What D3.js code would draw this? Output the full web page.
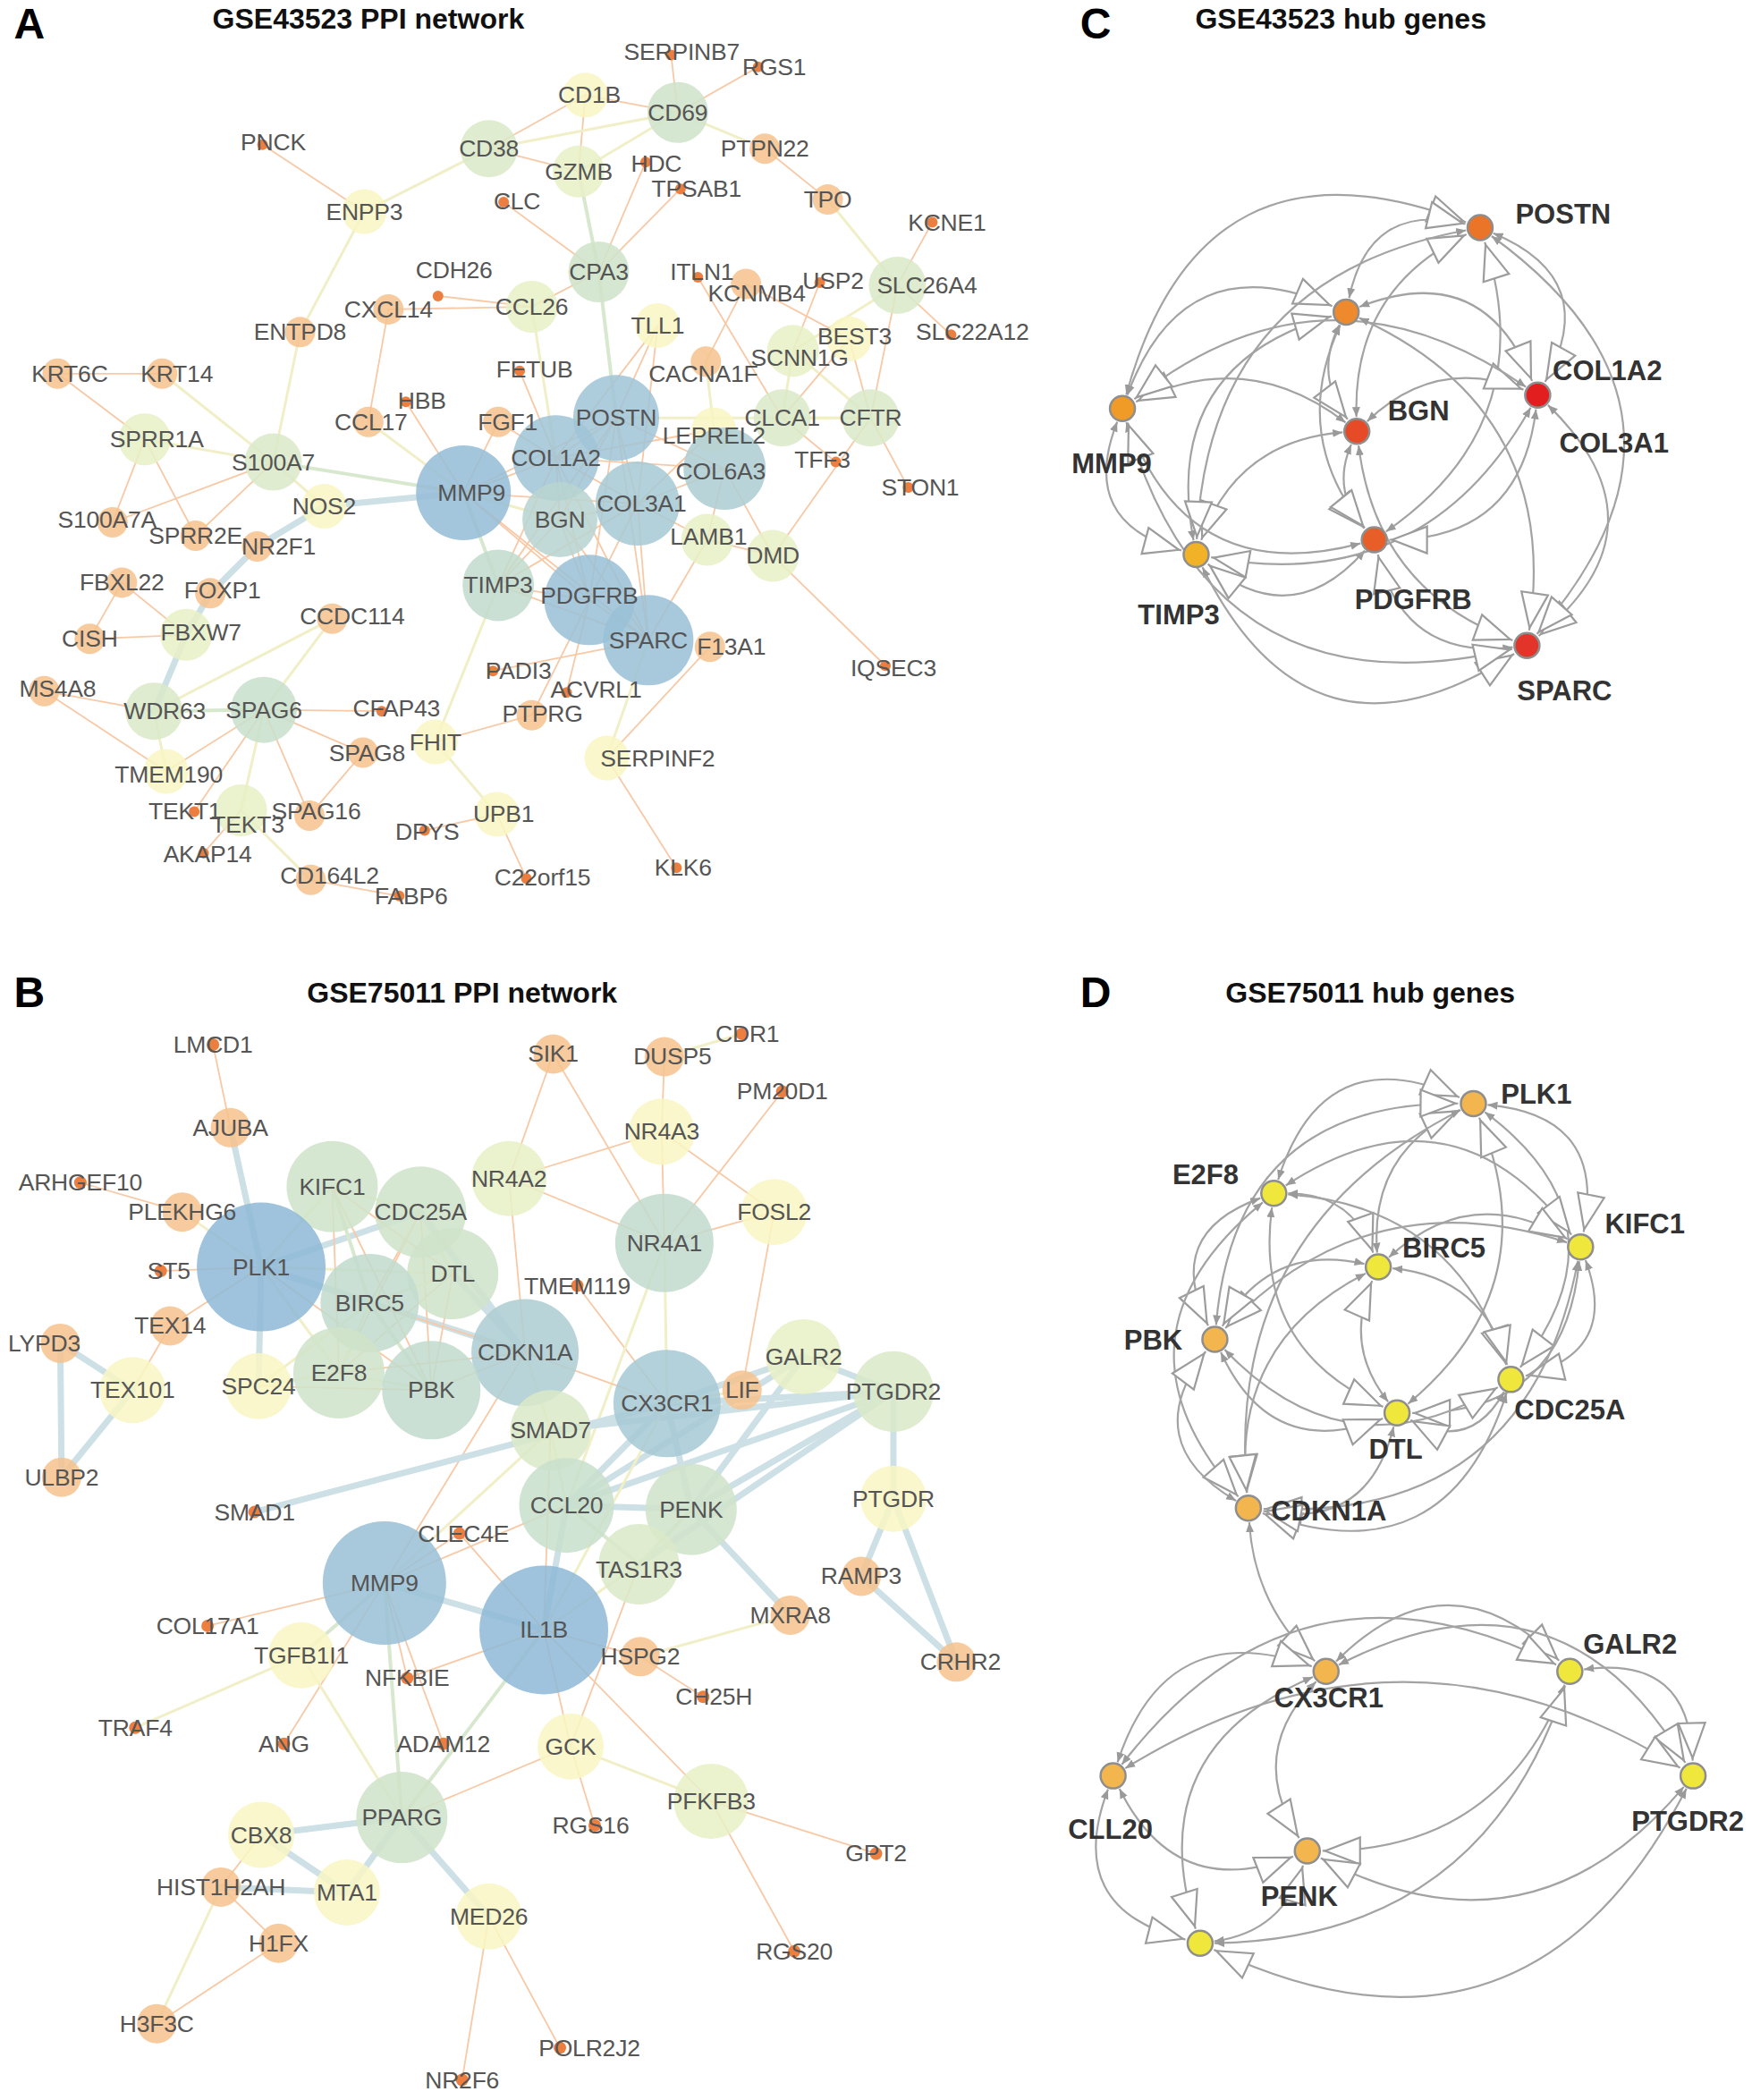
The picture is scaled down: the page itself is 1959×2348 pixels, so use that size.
<!DOCTYPE html>
<html><head><meta charset="utf-8">
<script src="https://cdn.jsdelivr.net/npm/d3@7"></script>
<style>
body{margin:0;background:#fff}
svg text{font-family:"Liberation Sans",Arial,Helvetica,sans-serif}
</style></head>
<body>
<svg id="fig" width="1959" height="2348"></svg>
<script>
// ---------------- DATA (layout units of a 1308 x 1568 reference) ----------------
const panelLetters = [["A",22,18],["B",22,741],["C",818,18],["D",818,741]];
const panelTitles = [["GSE43523 PPI network",275,14],["GSE75011 PPI network",345,741],
                     ["GSE43523 hub genes",1001,14],["GSE75011 hub genes",1023,741]];

// [gene, x, y, degree]
const nodesA = [
["SERPINB7",501,41,1],["RGS1",566,50,1],["CD1B",437,71,3],["CD69",506,84,6],["PNCK",196,108,1],
["CD38",365,111,5],["PTPN22",571,111,2],["GZMB",432,128,4],["HDC",482,121,1],["CLC",376,151,1],
["TPSAB1",508,141,1],["TPO",618,149,2],["ENPP3",272,158,3],["KCNE1",696,166,1],["CPA3",447,203,6],
["CDH26",327,221,1],["CXCL14",290,231,2],["CCL26",397,229,4],["ITLN1",521,207,1],["KCNMB4",557,212,2],
["USP2",612,211,1],["SLC26A4",670,213,5],["ENTPD8",224,248,2],["TLL1",491,243,3],["BEST3",634,253,3],
["SLC22A12",710,250,1],["SCNN1G",592,262,4],["KRT6C",43,279,2],["KRT14",121,279,2],["FETUB",388,277,1],
["CACNA1F",527,270,2],["HBB",303,300,1],["CCL17",275,315,2],["FGF1",372,315,2],["POSTN",460,312,12],
["CLCA1",584,312,5],["CFTR",650,312,5],["LEPREL2",533,321,3],["SPRR1A",108,328,4],["COL1A2",415,342,12],
["S100A7",204,345,5],["COL6A3",541,350,10],["TFF3",624,345,1],["STON1",678,364,1],["MMP9",346,368,14],
["NOS2",242,378,3],["BGN",418,388,9],["COL3A1",476,376,11],["S100A7A",84,390,2],["SPRR2E",146,400,2],
["NR2F1",192,408,2],["LAMB1",528,403,4],["DMD",577,415,4],["FBXL22",91,435,2],["FOXP1",157,443,2],
["TIMP3",372,437,8],["PDGFRB",440,448,13],["CCDC114",248,462,2],["CISH",67,477,2],["FBXW7",139,474,4],
["SPARC",484,478,13],["F13A1",530,483,2],["IQSEC3",661,497,1],["PADI3",368,501,1],["MS4A8",33,516,2],
["ACVRL1",423,517,1],["WDR63",115,531,5],["SPAG6",197,530,7],["CFAP43",285,531,1],["PTPRG",397,534,2],
["FHIT",325,554,3],["SPAG8",271,562,2],["SERPINF2",453,566,3],["TMEM190",124,576,3],["TEKT1",145,606,1],
["TEKT3",180,605,4],["SPAG16",231,609,2],["UPB1",371,608,3],["DPYS",317,620,1],["AKAP14",152,637,1],
["CD164L2",232,657,2],["C22orf15",393,656,1],["KLK6",505,648,1],["FABP6",298,669,1]
];
// [source, target, score class 1..4]
const edgesA = [
["SERPINB7","CD69",1],["RGS1","CD69",1],["CD1B","CD69",1],["CD1B","CD38",1],["CD1B","GZMB",1],
["CD69","CD38",2],["CD69","GZMB",2],["CD69","PTPN22",2],["CD38","GZMB",1],["CD38","ENPP3",2],
["PNCK","ENPP3",1],["PTPN22","TPO",1],["TPO","SLC26A4",2],["GZMB","CPA3",3],["HDC","CPA3",1],
["TPSAB1","CPA3",1],["CLC","CPA3",1],["CPA3","CCL26",1],["CPA3","POSTN",3],["CCL26","CXCL14",1],
["CDH26","CCL26",1],["CXCL14","CCL17",1],["CCL26","COL1A2",2],["ENPP3","ENTPD8",2],["ENTPD8","S100A7",2],
["KRT6C","KRT14",1],["KRT6C","SPRR1A",1],["KRT14","S100A7",2],["SPRR1A","S100A7",2],["SPRR1A","S100A7A",1],
["SPRR1A","SPRR2E",1],["S100A7","S100A7A",1],["S100A7","SPRR2E",1],["S100A7","MMP9",3],["S100A7","NOS2",2],
["NOS2","MMP9",4],["NOS2","NR2F1",4],["NR2F1","FOXP1",4],["FOXP1","FBXW7",4],["FBXW7","WDR63",4],
["FBXL22","FBXW7",1],["FBXL22","CISH",1],["CISH","FBXW7",1],["CCDC114","WDR63",2],["CCDC114","SPAG6",2],
["MS4A8","WDR63",1],["MS4A8","TMEM190",1],["WDR63","SPAG6",3],["WDR63","TMEM190",2],["SPAG6","TMEM190",1],
["SPAG6","CFAP43",1],["SPAG6","SPAG8",1],["SPAG6","TEKT1",1],["SPAG6","TEKT3",2],["SPAG6","SPAG16",1],
["SPAG8","SPAG16",1],["TEKT3","AKAP14",1],["TEKT3","CD164L2",2],["CD164L2","FABP6",1],["FHIT","TIMP3",2],
["FHIT","UPB1",2],["FHIT","PTPRG",1],["UPB1","DPYS",1],["UPB1","C22orf15",1],["SERPINF2","SPARC",2],
["SERPINF2","F13A1",1],["SERPINF2","KLK6",1],["DMD","IQSEC3",1],["DMD","LAMB1",1],["DMD","COL6A3",1],
["DMD","CFTR",1],["STON1","CFTR",1],["SLC26A4","KCNE1",1],["SLC26A4","SLC22A12",1],["SLC26A4","CFTR",1],
["SLC26A4","SCNN1G",2],["USP2","SCNN1G",1],["KCNMB4","CACNA1F",1],["KCNMB4","BEST3",1],["ITLN1","CLCA1",1],
["SCNN1G","CFTR",2],["SCNN1G","CLCA1",2],["BEST3","CLCA1",1],["BEST3","CFTR",1],["CLCA1","CFTR",2],
["POSTN","CFTR",2],["CACNA1F","LEPREL2",2],["TLL1","POSTN",1],["TLL1","COL1A2",1],["TLL1","COL3A1",1],
["FETUB","COL1A2",1],["HBB","MMP9",1],["CCL17","MMP9",2],["FGF1","MMP9",1],["FGF1","COL1A2",1],
["LEPREL2","COL1A2",1],["LEPREL2","COL3A1",1],["COL6A3","COL1A2",1],["COL6A3","COL3A1",1],["COL6A3","POSTN",1],
["COL6A3","LAMB1",1],["LAMB1","SPARC",1],["LAMB1","COL3A1",1],["PADI3","SPARC",1],["ACVRL1","PDGFRB",1],
["PTPRG","PDGFRB",1],["TFF3","CLCA1",1],
["MMP9","POSTN",1],["MMP9","COL1A2",1],["MMP9","COL3A1",1],["MMP9","BGN",2],["MMP9","TIMP3",3],
["MMP9","PDGFRB",1],["MMP9","SPARC",1],["POSTN","COL1A2",1],["POSTN","COL3A1",1],["POSTN","BGN",1],
["POSTN","TIMP3",1],["POSTN","PDGFRB",1],["POSTN","SPARC",1],["COL1A2","COL3A1",1],["COL1A2","BGN",1],
["COL1A2","TIMP3",1],["COL1A2","PDGFRB",1],["COL1A2","SPARC",1],["COL3A1","BGN",1],["COL3A1","TIMP3",1],
["COL3A1","PDGFRB",1],["COL3A1","SPARC",1],["BGN","TIMP3",1],["BGN","PDGFRB",1],["BGN","SPARC",1],
["TIMP3","PDGFRB",1],["TIMP3","SPARC",1],["PDGFRB","SPARC",1]
];

const nodesB = [
["LMCD1",159,780,1],["SIK1",413,787,2],["DUSP5",496,789,2],["CDR1",554,772,1],["PM20D1",584,815,1],
["AJUBA",172,842,2],["NR4A3",494,845,3],["NR4A2",380,880,4],["ARHGEF10",60,883,1],["KIFC1",248,886,6],
["CDC25A",314,905,6],["PLEKHG6",136,905,2],["FOSL2",578,905,3],["NR4A1",496,928,8],["PLK1",195,946,15],
["DTL",338,951,6],["ST5",120,949,1],["TMEM119",431,960,1],["BIRC5",276,973,8],["TEX14",127,990,2],
["CDKN1A",392,1010,10],["LYPD3",45,1003,2],["E2F8",253,1025,6],["GALR2",600,1013,4],["PTGDR2",667,1039,5],
["TEX101",99,1038,3],["SPC24",193,1035,3],["PBK",322,1038,8],["LIF",554,1038,2],["CX3CR1",498,1048,11],
["SMAD7",411,1068,5],["ULBP2",46,1103,2],["PTGDR",667,1119,3],["CCL20",423,1124,7],["PENK",516,1127,6],
["SMAD1",190,1129,1],["CLEC4E",343,1145,1],["MMP9",287,1182,13],["TAS1R3",477,1168,5],["RAMP3",643,1177,2],
["IL1B",406,1217,15],["MXRA8",590,1206,2],["COL17A1",155,1214,1],["TGFB1I1",225,1236,3],["HSPG2",478,1237,2],
["CRHR2",714,1241,2],["NFKBIE",304,1253,1],["CH25H",525,1267,1],["TRAF4",101,1290,1],["ANG",212,1302,1],
["ADAM12",331,1302,1],["GCK",426,1304,3],["PFKFB3",531,1345,4],["PPARG",300,1357,6],["CBX8",195,1370,3],
["RGS16",444,1363,1],["GPT2",654,1384,1],["HIST1H2AH",165,1409,2],["MTA1",259,1413,3],["MED26",365,1431,3],
["H1FX",208,1451,2],["RGS20",593,1457,1],["H3F3C",117,1511,2],["POLR2J2",418,1529,1],["NR2F6",345,1553,1]
];
const edgesB = [
["LMCD1","AJUBA",1],["AJUBA","PLK1",4],["ARHGEF10","PLEKHG6",1],["PLEKHG6","PLK1",2],["ST5","PLK1",1],
["TEX14","PLK1",1],["TEX14","TEX101",1],["LYPD3","TEX101",4],["LYPD3","ULBP2",4],["TEX101","ULBP2",4],
["PLK1","KIFC1",2],["PLK1","CDC25A",4],["PLK1","BIRC5",4],["PLK1","DTL",2],["PLK1","E2F8",2],
["PLK1","SPC24",4],["PLK1","PBK",1],["PLK1","CDKN1A",4],["KIFC1","CDC25A",2],["KIFC1","BIRC5",3],
["KIFC1","DTL",1],["KIFC1","E2F8",1],["KIFC1","PBK",1],["CDC25A","DTL",2],["CDC25A","BIRC5",1],
["CDC25A","CDKN1A",4],["CDC25A","PBK",1],["CDC25A","E2F8",1],["DTL","BIRC5",2],["DTL","CDKN1A",4],
["DTL","PBK",1],["DTL","E2F8",1],["BIRC5","E2F8",2],["BIRC5","PBK",3],["BIRC5","SPC24",2],
["BIRC5","CDKN1A",1],["E2F8","PBK",2],["E2F8","SPC24",2],["E2F8","CDKN1A",1],["PBK","SPC24",1],
["PBK","CDKN1A",1],
["SIK1","NR4A2",1],["SIK1","NR4A1",1],["DUSP5","NR4A3",1],["DUSP5","CDR1",2],["PM20D1","NR4A1",1],
["NR4A3","NR4A2",1],["NR4A3","NR4A1",1],["NR4A3","FOSL2",1],["NR4A2","NR4A1",1],["NR4A2","CDKN1A",1],
["NR4A1","FOSL2",1],["NR4A1","CX3CR1",2],["FOSL2","LIF",1],["TMEM119","CX3CR1",1],["NR4A1","CCL20",2],
["CDKN1A","CX3CR1",1],["CDKN1A","SMAD7",2],["CDKN1A","MMP9",1],["SMAD1","CX3CR1",4],
["GALR2","CX3CR1",4],["GALR2","PTGDR2",4],["GALR2","CCL20",4],["GALR2","PENK",4],["PTGDR2","CX3CR1",4],
["PTGDR2","CCL20",4],["PTGDR2","PENK",4],["PTGDR2","SMAD7",4],["PTGDR2","TAS1R3",4],["PTGDR2","PTGDR",4],
["PTGDR","RAMP3",4],["PTGDR","CRHR2",4],["RAMP3","CRHR2",4],["CX3CR1","CCL20",4],["CX3CR1","PENK",4],
["CCL20","PENK",4],["PENK","MXRA8",4],["CCL20","TAS1R3",3],["PENK","TAS1R3",3],["LIF","CX3CR1",2],
["IL1B","MMP9",4],["IL1B","CCL20",4],["IL1B","CLEC4E",1],["IL1B","NFKBIE",1],["IL1B","HSPG2",1],
["IL1B","GCK",1],["IL1B","PPARG",3],["IL1B","SMAD7",1],["IL1B","PFKFB3",1],["IL1B","CX3CR1",2],
["IL1B","TAS1R3",2],["MMP9","CLEC4E",1],["MMP9","COL17A1",1],["MMP9","TGFB1I1",3],["MMP9","NFKBIE",1],
["MMP9","PPARG",3],["MMP9","ANG",1],["MMP9","ADAM12",1],["MMP9","SMAD7",2],["MMP9","CCL20",1],
["TGFB1I1","TRAF4",2],["TGFB1I1","PPARG",2],["PPARG","GCK",1],["PPARG","CBX8",4],["PPARG","MTA1",4],
["PPARG","MED26",4],["CBX8","MTA1",4],["HIST1H2AH","MTA1",4],["HIST1H2AH","CBX8",1],["HIST1H2AH","H1FX",1],
["HIST1H2AH","H3F3C",2],["H1FX","H3F3C",1],["MED26","NR2F6",1],["MED26","POLR2J2",1],["GCK","RGS16",1],
["GCK","PFKFB3",2],["PFKFB3","GPT2",1],["PFKFB3","RGS20",1],["HSPG2","MXRA8",2],["HSPG2","CH25H",1],
["GCK","TAS1R3",1],["SMAD7","CCL20",2]
];

// hub gene networks: [gene, x, y, rank, labelX, labelY, cluster]
const hubNodesC = [
["POSTN",1105,170,5,1167,160,0],["COL3A1",1005,233,6,1205,331,0],["MMP9",838,305,7,830,346,0],
["BGN",1013,322,3,1059,307,0],["COL1A2",1148,295,1,1200,277,0],["TIMP3",893,414,8,880,459,0],
["PDGFRB",1026,403,4,1055,448,0],["SPARC",1140,482,2,1168,516,0]
];
// [from, to] : small arrow at "from", open triangle at "to"
const hubEdgesC = [
["MMP9","POSTN"],["COL3A1","POSTN"],["BGN","POSTN"],["PDGFRB","POSTN"],["POSTN","COL1A2"],
["COL3A1","COL1A2"],["BGN","COL1A2"],["MMP9","COL3A1"],["TIMP3","COL3A1"],["BGN","MMP9"],
["COL1A2","MMP9"],["MMP9","TIMP3"],["BGN","TIMP3"],["PDGFRB","TIMP3"],["COL1A2","TIMP3"],
["BGN","PDGFRB"],["SPARC","PDGFRB"],["COL1A2","PDGFRB"],["COL3A1","SPARC"],["BGN","SPARC"],
["COL1A2","SPARC"],["POSTN","SPARC"],["TIMP3","SPARC"],["MMP9","SPARC"],["COL3A1","BGN"],
["POSTN","TIMP3"],["COL3A1","PDGFRB"],["PDGFRB","MMP9"]
];
const hubNodesD = [
["PLK1",1100,824,2,1147,817,0],["E2F8",951,891,1,900,877,0],["KIFC1",1180,931,1,1228,914,0],
["BIRC5",1029,946,1,1078,932,0],["PBK",907,1000,2,861,1001,0],["CDC25A",1128,1030,1,1172,1053,0],
["DTL",1043,1055,1,1042,1082,0],["CDKN1A",932,1126,2,992,1128,0],["CX3CR1",990,1248,2,992,1268,1],
["GALR2",1172,1248,1,1217,1228,1],["CLL20",831,1326,2,829,1366,1],["PTGDR2",1264,1326,1,1260,1360,1],
["PENK",976,1382,2,970,1416,1],["TAS1R3",896,1451,1,null,null,1]
];
const hubEdgesD = [
["E2F8","PLK1"],["PLK1","KIFC1"],["BIRC5","PLK1"],["PBK","PLK1"],["PLK1","CDC25A"],["DTL","PLK1"],
["PLK1","CDKN1A"],["E2F8","KIFC1"],["E2F8","BIRC5"],["E2F8","PBK"],["E2F8","CDC25A"],["E2F8","DTL"],
["E2F8","CDKN1A"],["BIRC5","KIFC1"],["KIFC1","PBK"],["KIFC1","CDC25A"],["KIFC1","DTL"],["KIFC1","CDKN1A"],
["BIRC5","PBK"],["BIRC5","CDC25A"],["DTL","BIRC5"],["BIRC5","CDKN1A"],["PBK","CDC25A"],["PBK","DTL"],
["CDKN1A","PBK"],["CDC25A","DTL"],["CDC25A","CDKN1A"],["DTL","CDKN1A"],
["CDKN1A","CX3CR1"],
["CX3CR1","GALR2"],["CLL20","CX3CR1"],["CX3CR1","PTGDR2"],["CX3CR1","PENK"],["CX3CR1","TAS1R3"],
["CLL20","GALR2"],["GALR2","PTGDR2"],["GALR2","PENK"],["TAS1R3","GALR2"],["CLL20","PTGDR2"],
["CLL20","PENK"],["CLL20","TAS1R3"],["PTGDR2","PENK"],["PTGDR2","TAS1R3"],["TAS1R3","PENK"]
];

// ---------------- SCALES ----------------
const W = 1959, H = 2348;
const sx = d3.scaleLinear().domain([0,1308]).range([0,W]);
const sy = d3.scaleLinear().domain([0,1568]).range([0,H]);
const unit = sx(1) - sx(0);

const degColor = d3.scaleLinear()
  .domain([1,2,3,4,5,6,8,10,12,15])
  .range(["#ec7f3f","#f6c28d","#f8f6c3","#e8f0c6","#dae9c8","#cfe3ca","#c1dbcd","#aecdd3","#a0c4d6","#8fb9d6"])
  .clamp(true);
const radiusA = d3.scaleLinear().domain([1,2,3,4,5,6,7,8,9,10,12,14])
  .range([6,17,25,29,32,34,37,40,42,46,48,53]).clamp(true);
const radiusB = d3.scaleLinear().domain([1,2,3,4,5,6,8,10,11,13,15])
  .range([7,22,37,42,45,51,55,60,60,69,72]).clamp(true);
const edgeColor = d3.scaleOrdinal().domain([1,2,3,4]).range(["#f7c9a6","#f1efc7","#d8e8cf","#cde0e6"]);
const edgeWidth = d3.scaleOrdinal().domain([1,2,3,4]).range([1.8,3,4,7]);
const rankColorC = d3.scaleLinear().domain([1,2,3,4,5,6,7,8])
  .range(["#e21e1f","#e3342a","#e64a26","#e85e28","#ea7428","#ee8a2b","#f09a28","#f2b227"]);
const scoreColorD = d3.scaleOrdinal().domain([1,2]).range(["#efe73c","#f3b64f"]);

// label nudges (layout units)
const nudge = {
 SERPINB7:[8,-2],RGS1:[12,0],PNCK:[8,-2],HDC:[8,1],CLC:[10,-1],TPSAB1:[12,0],KCNE1:[11,0],CDH26:[12,-19],
 ITLN1:[3,-4],KCNMB4:[8,7],USP2:[10,-1],SLC26A4:[22,0],BEST3:[4,-2],SLC22A12:[16,-2],SCNN1G:[5,5],
 KRT6C:[9,0],KRT14:[11,0],FETUB:[11,-1],CACNA1F:[-2,9],HBB:[12,-1],CCL17:[2,0],FGF1:[7,0],TFF3:[-10,-2],
 STON1:[9,0],MMP9:[6,0],S100A7A:[-4,-2],NR2F1:[16,0],FOXP1:[9,-2],CCDC114:[15,-2],FBXW7:[11,-2],
 F13A1:[16,0],IQSEC3:[6,2],PADI3:[19,0],MS4A8:[10,-2],ACVRL1:[22,-2],WDR63:[8,0],CFAP43:[11,-2],
 PTPRG:[8,-1],SPAG8:[3,0],SERPINF2:[38,0],TMEM190:[2,2],TEKT1:[-7,0],TEKT3:[5,11],SPAG16:[5,-3],
 UPB1:[5,0],DPYS:[2,1],AKAP14:[3,1],CD164L2:[14,-3],C22orf15:[12,-1],KLK6:[5,0],FABP6:[9,0],
 LEPREL2:[0,4],SPRR1A:[9,0],COL3A1:[3,0],CD1B:[3,0],COL6A3:[-3,2],LAMB1:[1,-2],PDGFRB:[0,-3]
};
const nudgeB = {DUSP5:[6,0],CDR1:[4,0],ST5:[6,0],LYPD3:[-12,0],CLEC4E:[3,0],TAS1R3:[0,4],CH25H:[8,0],
 CRHR2:[3,0],RGS16:[-3,0],POLR2J2:[22,0],MMP9:[0,0]};

// ---------------- DRAW ----------------
const svg = d3.select("#fig");
svg.append("rect").attr("width",W).attr("height",H).attr("fill","#fff");

const defs = svg.append("defs");
defs.append("marker").attr("id","smallArrow").attr("viewBox","0 -6 12 12")
  .attr("markerUnits","userSpaceOnUse").attr("markerWidth",12).attr("markerHeight",12)
  .attr("refX",11).attr("refY",0).attr("orient","auto-start-reverse")
  .append("path").attr("d","M0,-4.5L11,0L0,4.5Z").attr("fill","#9a9a9a");
defs.append("marker").attr("id","openTri").attr("viewBox","-2 -18 60 36")
  .attr("markerUnits","userSpaceOnUse").attr("markerWidth",60).attr("markerHeight",36)
  .attr("refX",44).attr("refY",0).attr("orient","auto")
  .append("path").attr("d","M2,-15L41,0L2,15Z").attr("fill","#fff")
  .attr("stroke","#9c9c9c").attr("stroke-width",2.2).attr("stroke-linejoin","miter");

function drawNetwork(nodes, edges, rScale, nud) {
  const g = svg.append("g");
  const m = new Map(nodes.map(d => [d[0], {name:d[0], x:sx(d[1]), y:sy(d[2]), deg:d[3]}]));
  const es = edges.filter(e => m.has(e[0]) && m.has(e[1]));
  g.append("g").selectAll("line").data(es).join("line")
    .attr("x1", e => m.get(e[0]).x).attr("y1", e => m.get(e[0]).y)
    .attr("x2", e => m.get(e[1]).x).attr("y2", e => m.get(e[1]).y)
    .attr("stroke", e => edgeColor(e[2])).attr("stroke-width", e => edgeWidth(e[2]))
    .attr("stroke-linecap","round");
  const ns = [...m.values()];
  g.append("g").selectAll("circle").data(ns).join("circle")
    .attr("cx", d => d.x).attr("cy", d => d.y).attr("r", d => rScale(d.deg))
    .attr("fill", d => degColor(d.deg)).attr("fill-opacity", d => d.deg === 1 ? 1 : 0.86);
  g.append("g").selectAll("text").data(ns).join("text")
    .attr("x", d => d.x + (nud[d.name] ? nud[d.name][0] : 0) * unit)
    .attr("y", d => d.y + (nud[d.name] ? nud[d.name][1] : 0) * unit)
    .attr("text-anchor","middle").attr("dominant-baseline","central")
    .attr("font-size",26.5).attr("fill","#555").attr("letter-spacing","-0.2")
    .text(d => d.name);
}
drawNetwork(nodesA, edgesA, radiusA, nudge);
drawNetwork(nodesB, edgesB, radiusB, nudgeB);

function drawHub(nodes, edges, colorFn) {
  const g = svg.append("g");
  const m = new Map(nodes.map(d => [d[0], {name:d[0], x:sx(d[1]), y:sy(d[2]), s:d[3],
      lx: d[4] == null ? null : sx(d[4]), ly: d[5] == null ? null : sy(d[5]), cl:d[6]}]));
  const ns = [...m.values()];
  const cent = {};
  d3.groups(ns, d => d.cl).forEach(([k, arr]) => { cent[k] = {x:d3.mean(arr, d=>d.x), y:d3.mean(arr, d=>d.y)}; });
  cent.all = {x:d3.mean(ns, d=>d.x), y:d3.mean(ns, d=>d.y)};
  const R = 14;
  const paths = edges.map(([a,b]) => {
    const A = m.get(a), B = m.get(b);
    const c = A.cl === B.cl ? cent[A.cl] : cent.all;
    const dx = B.x - A.x, dy = B.y - A.y, L = Math.hypot(dx, dy);
    const mx = (A.x + B.x)/2, my = (A.y + B.y)/2;
    const nx = -dy/L, ny = dx/L;
    const side = (mx - c.x)*nx + (my - c.y)*ny;
    const s = side >= 0 ? 1 : -1;
    const k = A.cl === B.cl ? 0.3 + 0.26*Math.min(1, Math.abs(side)/160) : 0.2;
    const cx = mx + nx*s*k*L, cy = my + ny*s*k*L;
    const u1x = cx - A.x, u1y = cy - A.y, l1 = Math.hypot(u1x,u1y);
    const u2x = cx - B.x, u2y = cy - B.y, l2 = Math.hypot(u2x,u2y);
    const p = d3.path();
    p.moveTo(A.x + u1x/l1*(R+2), A.y + u1y/l1*(R+2));
    p.quadraticCurveTo(cx, cy, B.x + u2x/l2*(R+3), B.y + u2y/l2*(R+3));
    return p.toString();
  });
  g.append("g").selectAll("path").data(paths).join("path")
    .attr("d", d => d).attr("fill","none").attr("stroke","#a3a3a3").attr("stroke-width",2.2)
    .attr("marker-start","url(#smallArrow)").attr("marker-end","url(#openTri)");
  g.append("g").selectAll("circle").data(ns).join("circle")
    .attr("cx", d => d.x).attr("cy", d => d.y).attr("r", R)
    .attr("fill", d => colorFn(d.s)).attr("stroke","#8e8e8e").attr("stroke-width",2.5);
  g.append("g").selectAll("text").data(ns.filter(d => d.lx != null)).join("text")
    .attr("x", d => d.lx).attr("y", d => d.ly)
    .attr("text-anchor","middle").attr("dominant-baseline","central")
    .attr("font-size",31).attr("font-weight","bold").attr("fill","#333")
    .text(d => d.name);
}
drawHub(hubNodesC, hubEdgesC, rankColorC);
drawHub(hubNodesD, hubEdgesD, scoreColorD);

// letters and titles
svg.append("g").selectAll("text").data(panelLetters).join("text")
  .attr("x", d => sx(d[1])).attr("y", d => sy(d[2]))
  .attr("text-anchor","middle").attr("dominant-baseline","central")
  .attr("font-size",48).attr("font-weight","bold").attr("fill","#000").text(d => d[0]);
svg.append("g").selectAll("text").data(panelTitles).join("text")
  .attr("x", d => sx(d[1])).attr("y", d => sy(d[2]))
  .attr("text-anchor","middle").attr("dominant-baseline","central")
  .attr("font-size",32).attr("font-weight","bold").attr("fill","#111").text(d => d[0]);
</script>
</body></html>
